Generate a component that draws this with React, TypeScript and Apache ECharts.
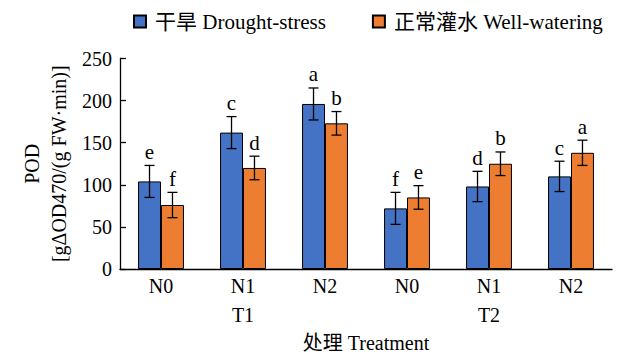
import React, { useEffect, useRef } from "react";
import * as echarts from "echarts";

const groups = ["T1", "T2"];
const nLevels = ["N0", "N1", "N2"];
const categories = groups.flatMap((g) => nLevels.map((n) => `${g}-${n}`));

const seriesNames = ["干旱 Drought-stress", "正常灌水 Well-watering"];
const droughtValues = [104, 162, 196, 72, 98, 110];
const droughtErrors = [19, 19, 19, 19, 18, 18];
const droughtLetters = ["e", "c", "a", "f", "d", "c"];
const wellValues = [76, 120, 173, 85, 125, 138];
const wellErrors = [15, 14, 14, 14, 14, 15];
const wellLetters = ["f", "d", "b", "e", "b", "a"];

const yMin = 0;
const yMax = 250;
const yInterval = 50;

const FONT = "Liberation Serif, Noto Sans CJK SC, serif";
const BLUE = "#4472C4";
const ORANGE = "#ED7D31";

function errorSeries(values: number[], errors: number[], letters: string[], offset: number, name: string) {
  return {
    type: "custom",
    name,
    z: 10,
    silent: true,
    data: values.map((v, i) => [i, v, errors[i]]),
    encode: { x: 0, y: 1 },
    renderItem: (params: any, api: any) => {
      const idx = api.value(0);
      const val = api.value(1);
      const err = api.value(2);
      const top = api.coord([idx, val + err]);
      const bot = api.coord([idx, val - err]);
      const band = api.size([1, 0])[0];
      const x = top[0] + offset * band;
      const cap = 5;
      const ls = { stroke: "#000", lineWidth: 1.3 };
      return {
        type: "group",
        children: [
          { type: "line", shape: { x1: x, y1: top[1], x2: x, y2: bot[1] }, style: ls },
          { type: "line", shape: { x1: x - cap, y1: top[1], x2: x + cap, y2: top[1] }, style: ls },
          { type: "line", shape: { x1: x - cap, y1: bot[1], x2: x + cap, y2: bot[1] }, style: ls },
          {
            type: "text",
            x,
            y: top[1] - 3,
            style: {
              text: letters[params.dataIndex],
              align: "center",
              verticalAlign: "bottom",
              fontSize: 21,
              fontFamily: FONT,
              fill: "#000",
            },
          },
        ],
      };
    },
  };
}

export default function App() {
  const ref = useRef<HTMLDivElement>(null);
  useEffect(() => {
    document.body.style.margin = "0";
    const chart = echarts.init(ref.current!, null, { renderer: "svg" });
    chart.setOption({
      animation: false,
      backgroundColor: "#fff",
      textStyle: { fontFamily: FONT, color: "#000" },
      legend: {
        data: seriesNames,
        left: 128,
        top: 6,
        icon: "rect",
        itemWidth: 12,
        itemHeight: 12,
        itemGap: 46,
        textStyle: { fontSize: 21, fontFamily: FONT, color: "#000", padding: [0, 0, 0, 4] },
      },
      grid: { left: 120, right: 26, top: 58.5, bottom: 88, containLabel: false, outerBoundsMode: "none" },
      xAxis: {
        type: "category",
        data: categories,
        boundaryGap: true,
        name: "处理 Treatment",
        nameLocation: "middle",
        nameGap: 64,
        nameMoveOverlap: false,
        nameTextStyle: { fontSize: 20, fontFamily: FONT, color: "#000" },
        axisLine: { lineStyle: { color: "#000", width: 1.3 } },
        axisTick: { inside: true, length: 5, lineStyle: { color: "#000", width: 1.3 } },
        axisLabel: {
          interval: 0,
          margin: 2.5,
          fontSize: 20,
          lineHeight: 29,
          fontFamily: FONT,
          color: "#000",
          formatter: (val: string) => {
            const [g, n] = val.split("-");
            return n === "N1" ? `${n}\n${g}` : n;
          },
        },
        splitLine: { show: false },
      },
      yAxis: {
        type: "value",
        min: yMin,
        max: yMax,
        interval: yInterval,
        name: "POD\n[gΔOD470/(g FW·min)]",
        nameLocation: "middle",
        nameRotate: 90,
        nameGap: 48,
        nameMoveOverlap: false,
        nameTextStyle: { fontSize: 20, lineHeight: 27, fontFamily: FONT, color: "#000" },
        axisLine: { show: true, lineStyle: { color: "#000", width: 1.3 } },
        axisTick: { show: true, inside: true, length: 6, lineStyle: { color: "#000", width: 1.3 } },
        axisLabel: { margin: 8, fontSize: 20, fontFamily: FONT, color: "#000" },
        splitLine: { show: false },
      },
      series: [
        {
          type: "bar",
          name: seriesNames[0],
          data: droughtValues,
          barWidth: "28%",
          barGap: "0%",
          itemStyle: { color: BLUE, borderColor: "#000", borderWidth: 1 },
        },
        {
          type: "bar",
          name: seriesNames[1],
          data: wellValues,
          barWidth: "28%",
          barGap: "0%",
          itemStyle: { color: ORANGE, borderColor: "#000", borderWidth: 1 },
        },
        errorSeries(droughtValues, droughtErrors, droughtLetters, -0.14, "err-drought"),
        errorSeries(wellValues, wellErrors, wellLetters, 0.14, "err-well"),
      ],
    });
    return () => chart.dispose();
  }, []);
  return <div ref={ref} style={{ width: 638, height: 357 }} />;
}
